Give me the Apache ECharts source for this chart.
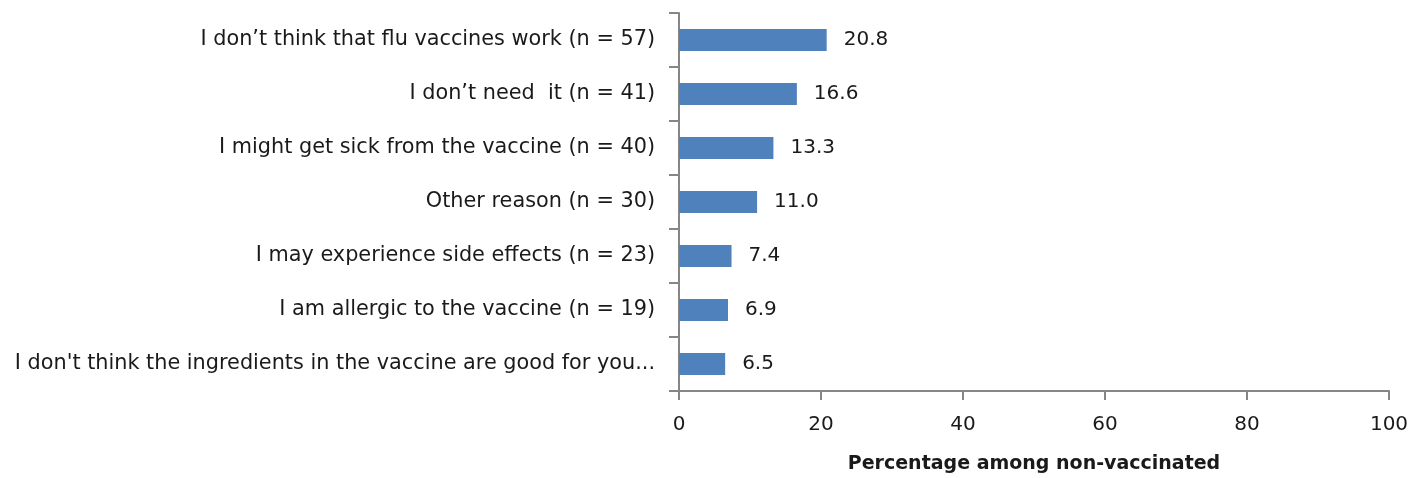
<!DOCTYPE html>
<html>
<head>
<meta charset="utf-8">
<script src="https://cdn.jsdelivr.net/npm/echarts@6/dist/echarts.min.js"></script>
<style>
  html, body { margin: 0; padding: 0; background: #fff; }
  #chart { width: 1416px; height: 478px; }
</style>
</head>
<body>
<div id="chart"></div>
<script>
// reasons for not getting vaccinated, top to bottom
const reasons = [
  'I don\u2019t think that flu vaccines work (n = 57)',
  'I don\u2019t need  it (n = 41)',
  'I might get sick from the vaccine (n = 40)',
  'Other reason (n = 30)',
  'I may experience side effects (n = 23)',
  'I am allergic to the vaccine (n = 19)',
  'I don\'t think the ingredients in the vaccine are good for you...'
];
const percentages = [20.8, 16.6, 13.3, 11.0, 7.4, 6.9, 6.5];
const xTicks = [0, 20, 40, 60, 80, 100];

const textColor = '#1a1a1a';
const axisColor = '#868686';
const fontFamily = '"DejaVu Sans", sans-serif';

const chart = echarts.init(document.getElementById('chart'));

const option = {
  animation: false,
  grid: {
    left: 679,
    right: 27,
    top: 13,
    bottom: 87,
    containLabel: false,
    outerBoundsMode: 'none'
  },
  xAxis: {
    type: 'value',
    min: xTicks[0],
    max: xTicks[xTicks.length - 1],
    interval: 20,
    name: 'Percentage among non-vaccinated',
    nameLocation: 'middle',
    nameGap: 64,
    nameTextStyle: { color: textColor, fontSize: 19, fontWeight: 'bold', fontFamily },
    axisLine: { show: true, lineStyle: { color: axisColor, width: 2 } },
    axisTick: { show: true, length: 9, lineStyle: { color: axisColor, width: 2 } },
    axisLabel: { color: textColor, fontSize: 20, fontFamily, margin: 24 },
    splitLine: { show: false }
  },
  yAxis: {
    type: 'category',
    inverse: true,
    data: reasons,
    axisLine: { show: true, lineStyle: { color: axisColor, width: 2 } },
    axisTick: { show: true, inside: false, length: 10, interval: 0, lineStyle: { color: axisColor, width: 2 } },
    axisLabel: { color: textColor, fontSize: 20.8, fontFamily, margin: 24, interval: 0 }
  },
  series: [{
    type: 'bar',
    data: percentages,
    barWidth: 22,
    itemStyle: { color: '#4f81bd' },
    label: {
      show: true,
      position: 'right',
      distance: 17,
      color: textColor,
      fontSize: 20,
      fontFamily,
      formatter: p => p.value.toFixed(1)
    }
  }]
};

chart.setOption(option);
</script>
</body>
</html>
